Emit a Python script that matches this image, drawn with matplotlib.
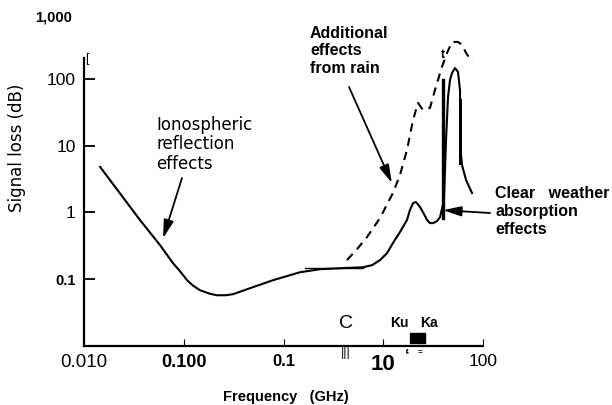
import matplotlib
matplotlib.use("Agg")
from matplotlib import pyplot as plt
from matplotlib.patches import Rectangle

# clear-weather loss curve (GHz, dB)
clear_f = [0.0145, 0.0364, 0.0578, 0.078, 0.0916, 0.108, 0.124, 0.1456, 0.180, 0.215,
           0.262, 0.312, 0.461, 0.785, 1.46, 2.32, 3.68, 6.27, 7.71, 9.27, 10.9, 12.5,
           14.7, 17.3, 18.5, 19.9, 21.3, 23.4, 25.6, 27.5, 29.4, 31.5, 34.6, 37.1, 40.6,
           42.6, 44.6, 46.7, 48.9, 52.4, 56.1, 58.8, 59.5, 61.6, 67.6, 77.6]
clear_db = [4.8, 0.77, 0.324, 0.174, 0.132, 0.0966, 0.080, 0.0684, 0.061, 0.0575,
            0.0575, 0.0596, 0.0733, 0.0966, 0.127, 0.141, 0.146, 0.151, 0.162, 0.193,
            0.245, 0.347, 0.507, 0.77, 1.08, 1.38, 1.43, 1.2, 0.944, 0.77, 0.692, 0.69,
            0.741, 0.85, 1.53, 12.1, 53.6, 96, 122, 145, 127, 68, 8.6, 5.12, 3.05, 1.95]

# rain curve (dashed)
rain_f = [4.33, 5.46, 6.87, 9.27, 12.5, 14.7, 17.3, 19.9, 22.3, 25.0, 29.4, 33.0, 38.8,
          43.6, 48.9, 56.1, 61.6, 67.6, 77.6]
rain_db = [0.193, 0.282, 0.427, 0.823, 1.95, 3.62, 8.6, 24.2, 43.5, 34.2, 36.6, 68, 151,
           244, 357, 357, 322, 244, 179]

# heavy strokes of the absorption lines
line1_f = [39.6, 39.6]
line1_db = [0.82, 96]
line2_f = [58.8, 58.8]
line2_db = [5.5, 48]
flat_f = [1.64, 6.27]
flat_db = [0.145, 0.145]

band_f = [18.5, 26.2]

x_ticks = [0.01, 0.1, 1, 10, 100]
x_labels = ["0.010", "0.100", "0.1", "10", "100"]
y_ticks = [0.1, 1, 10, 100]
y_labels = ["0.1", "1", "10", "100"]

plt.rcParams['font.family'] = ['Liberation Sans', 'DejaVu Sans']

W, H = 612, 405
def px(x, y):
    return (x / W, 1 - y / H)

fig = plt.figure(figsize=(6.12, 4.05), dpi=100)
ax = fig.add_axes([84 / W, 1 - 346 / H, (483 - 84) / W, (346 - 12) / H])
ax.set_xscale("log")
ax.set_yscale("log")
ax.set_xlim(0.01, 100)
ax.set_ylim(0.01, 1000)

ax.plot(clear_f, clear_db, color="black", lw=1.5, solid_joinstyle="round")
ax.plot(rain_f, rain_db, color="black", lw=1.5, linestyle=(0, (4, 3)))
ax.plot(line1_f, line1_db, color="black", lw=2.4)
ax.plot(line2_f, line2_db, color="black", lw=2.2)
ax.plot(flat_f, flat_db, color="black", lw=1.0)
ax.add_patch(Rectangle((band_f[0], 0.011), band_f[1] - band_f[0], 0.0045,
                       color="black", clip_on=False))

for s in ["top", "right"]:
    ax.spines[s].set_visible(False)
ax.spines["left"].set_bounds(0.01, 205)
ax.spines["left"].set_linewidth(1.6)
ax.spines["bottom"].set_linewidth(1.6)

ax.set_yticks(y_ticks, y_labels)
ax.yaxis.set_minor_locator(matplotlib.ticker.NullLocator())
ax.tick_params(axis="y", direction="in", length=8, width=1.3, pad=6, labelsize=12.5)
ylabs = ax.get_yticklabels()
ylabs[0].set_fontsize(10.5)
ylabs[0].set_fontweight("bold")

ax.set_xticks(x_ticks, x_labels)
ax.xaxis.set_minor_locator(matplotlib.ticker.NullLocator())
ax.tick_params(axis="x", direction="in", length=5, width=0.8, pad=6)
ax.xaxis.get_major_ticks()[0].tick1line.set_visible(False)
x_sizes = [13.5, 13, 12, 16, 12.5]
x_weights = ["normal", "bold", "bold", "bold", "normal"]
for lab, sz, wt in zip(ax.get_xticklabels(), x_sizes, x_weights):
    lab.set_fontsize(sz)
    lab.set_fontweight(wt)

fig.text(*px(54, 18), "1,000", ha="center", va="center", fontsize=10.5, fontweight="bold")
fig.text(*px(17, 148), "Signal loss (dB)", rotation=90, ha="center", va="center",
         fontsize=12, family="DejaVu Sans")
fig.text(*px(286, 397), "Frequency   (GHz)", ha="center", va="center",
         fontsize=10.5, fontweight="bold")
fig.text(*px(87, 59), "[", ha="center", va="center", fontsize=9)

fig.text(*px(156, 116), "Ionospheric\nreflection\neffects", ha="left", va="top",
         fontsize=12, family="DejaVu Sans", linespacing=1.1)
fig.text(*px(310, 26), "Additional\neffects\nfrom rain", ha="left", va="top",
         fontsize=11.5, fontweight="bold", linespacing=1.2)
fig.text(*px(495, 186), "Clear   weather\nabsorption\neffects", ha="left", va="top",
         fontsize=11.5, fontweight="bold", linespacing=1.25)
fig.text(*px(443, 55), "t", ha="center", va="center", fontsize=9, fontweight="bold")

fig.text(*px(346, 323), "C", ha="center", va="center", fontsize=14)
fig.text(*px(399, 323), "Ku", ha="center", va="center", fontsize=10, fontweight="bold")
fig.text(*px(429, 323), "Ka", ha="center", va="center", fontsize=10, fontweight="bold")
fig.text(*px(346, 353), "|||", ha="center", va="center", fontsize=9)
fig.text(*px(407, 356), "\u2018", ha="center", va="center", fontsize=12, fontweight="bold")
fig.text(*px(420, 352), "=", ha="center", va="center", fontsize=6, fontweight="bold")

arrow = dict(arrowstyle="-|>,head_length=1.1,head_width=0.3", color="black",
             lw=1.3, shrinkA=0, shrinkB=0)
ax.annotate("", xy=(0.062, 0.41), xytext=px(182, 178), textcoords="figure fraction",
            arrowprops=arrow)
ax.annotate("", xy=(12.2, 2.75), xytext=px(349, 87), textcoords="figure fraction",
            arrowprops=arrow)
ax.annotate("", xy=(39.7, 1.08), xytext=px(490, 213), textcoords="figure fraction",
            arrowprops=arrow)

fig.savefig("out.png", dpi=100)
